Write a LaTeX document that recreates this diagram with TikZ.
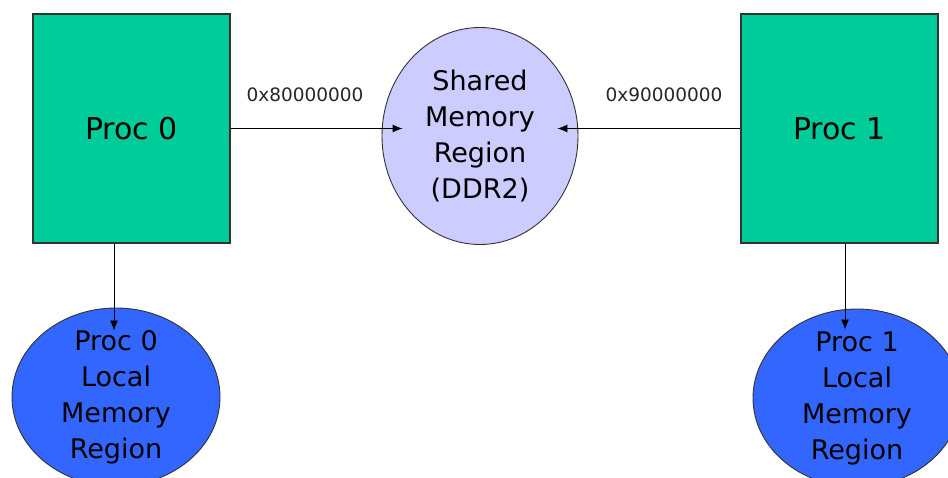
\documentclass[tikz,border=0pt]{standalone}
\usepackage{fontspec}
\setmainfont{DejaVu Sans}
\usetikzlibrary{shapes.geometric, arrows.meta, positioning}

\definecolor{procgreen}{HTML}{00CC99}
\definecolor{sharedlilac}{HTML}{CCCCFF}
\definecolor{localblue}{HTML}{3366FF}

\tikzstyle{procbox} = [draw=black!80, fill=procgreen, line width=1.1pt,
    rectangle, minimum width=197pt, minimum height=229pt,
    font=\fontsize{30}{36}\selectfont]
\tikzstyle{memblob} = [draw=black!80, line width=0.9pt, ellipse,
    align=center, inner sep=-12pt, font=\fontsize{27}{36}\selectfont]
\tikzstyle{hexlabel} = [font=\fontsize{18.5}{22}\selectfont, text=black!85]
\tikzstyle{link} = [-{Latex[length=10pt,width=8pt]}, line width=0.9pt]

\begin{document}
\begin{tikzpicture}[x=1pt, y=-1pt]
    \path[fill=white, use as bounding box] (0,0) rectangle (948,478);
%------------ Prozessoren ---------------------
    \node [procbox] (proc0) at (131.5,128.5) {Proc 0};
    \node [procbox] (proc1) at (839.5,128.5) {Proc 1};
%------------ Speicherbereiche ---------------------
    \node [memblob, fill=sharedlilac, minimum width=196pt, minimum height=217pt]
        (shared) at (480,136) {Shared\\Memory\\Region\\(DDR2)};
    \node [memblob, fill=localblue, minimum width=208pt, minimum height=178pt]
        (local0) at (116,397) {Proc 0\\Local\\Memory\\Region};
    \node [memblob, fill=localblue, minimum width=208pt, minimum height=178pt]
        (local1) at (857,398) {Proc 1\\Local\\Memory\\Region};
%------------ Adressen ---------------------
    \node [hexlabel] (addr0) at (305,95) {0x80000000};
    \node [hexlabel] (addr1) at (664,95) {0x90000000};
%------------ Verbindungen ---------------------
    \draw [link, shorten >=-21pt] (proc0.east) -- (proc0.east -| shared.west);
    \draw [link, shorten >=-21pt] (proc1.west) -- (proc1.west -| shared.east);
    \draw [link, shorten >=-23pt] ([xshift=-17.5pt]proc0.south)
        -- ([xshift=-17.5pt]proc0.south |- local0.north);
    \draw [link, shorten >=-21pt] ([xshift=5.5pt]proc1.south)
        -- ([xshift=5.5pt]proc1.south |- local1.north);
\end{tikzpicture}
\end{document}
